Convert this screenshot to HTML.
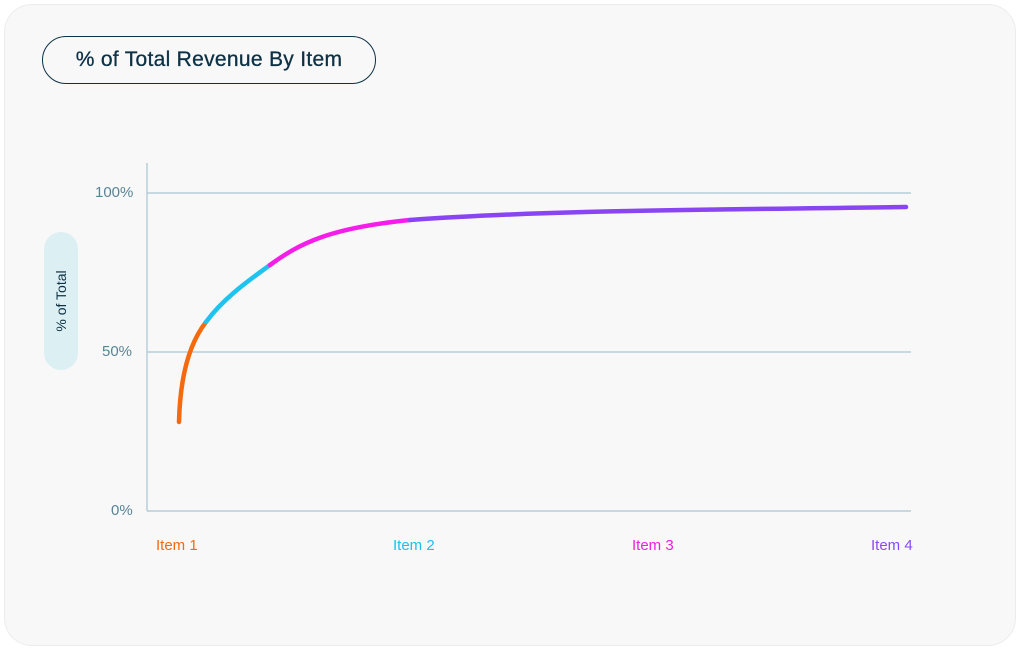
<!DOCTYPE html>
<html><head><style>
body{margin:0;width:1024px;height:656px;background:#fff;font-family:"Liberation Sans",sans-serif;position:relative;overflow:hidden}
.card{position:absolute;left:4px;top:4px;width:1010px;height:640px;background:#f8f8f8;border-radius:28px;border:1px solid #ececec}
.pill{position:absolute;left:42px;top:36px;width:332px;height:46px;border:1.5px solid #0d3145;border-radius:24px;color:#0d3145;font-size:21px;line-height:46px;text-align:center;font-weight:500;-webkit-text-stroke:0.3px #0d3145;letter-spacing:0.3px}
.yl{position:absolute;left:44px;top:232px;width:34px;height:138px;background:#dcf0f4;border-radius:17px}
.yl span{position:absolute;left:17px;top:69px;transform:translate(-50%,-50%) rotate(-90deg);white-space:nowrap;font-size:14px;color:#0d3145}
.t{position:absolute;font-size:15px;color:#5a8496}
.x{position:absolute;top:537px;font-size:15px}
</style></head><body>
<div class="card"></div>
<div class="pill">% of Total Revenue By Item</div>
<div class="yl"><span>% of Total</span></div>
<div class="t" style="left:95px;top:184px">100%</div>
<div class="t" style="left:102px;top:343px">50%</div>
<div class="t" style="left:111px;top:502px">0%</div>
<div class="x" style="left:156px;color:#f06a12">Item 1</div>
<div class="x" style="left:393px;color:#1ec0ea">Item 2</div>
<div class="x" style="left:632px;color:#ef1fe0">Item 3</div>
<div class="x" style="left:871px;color:#8d49f0">Item 4</div>
<svg width="1024" height="656" style="position:absolute;left:0;top:0">
<g stroke="#a9c6d2" stroke-width="1.2" fill="none">
<line x1="147" y1="163" x2="147" y2="511"/>
<line x1="147" y1="193" x2="911" y2="193"/>
<line x1="147" y1="352" x2="911" y2="352"/>
<line x1="147" y1="511" x2="911" y2="511"/>
</g>
<g fill="none" stroke-width="4.5" stroke-linecap="round">
<path d="M179,422 C180,380 188,345 206,322" stroke="#f56a0e"/>
<path d="M206,322 C222,300 245,283 270,265" stroke="#1ec3ee"/>
<path d="M270,265 C300,243 330,228 410,220" stroke="#f51ee8"/>
<path d="M410,220 C550,210 700,210 906,207" stroke="#8a45f2"/>
</g>
</svg>
</body></html>
